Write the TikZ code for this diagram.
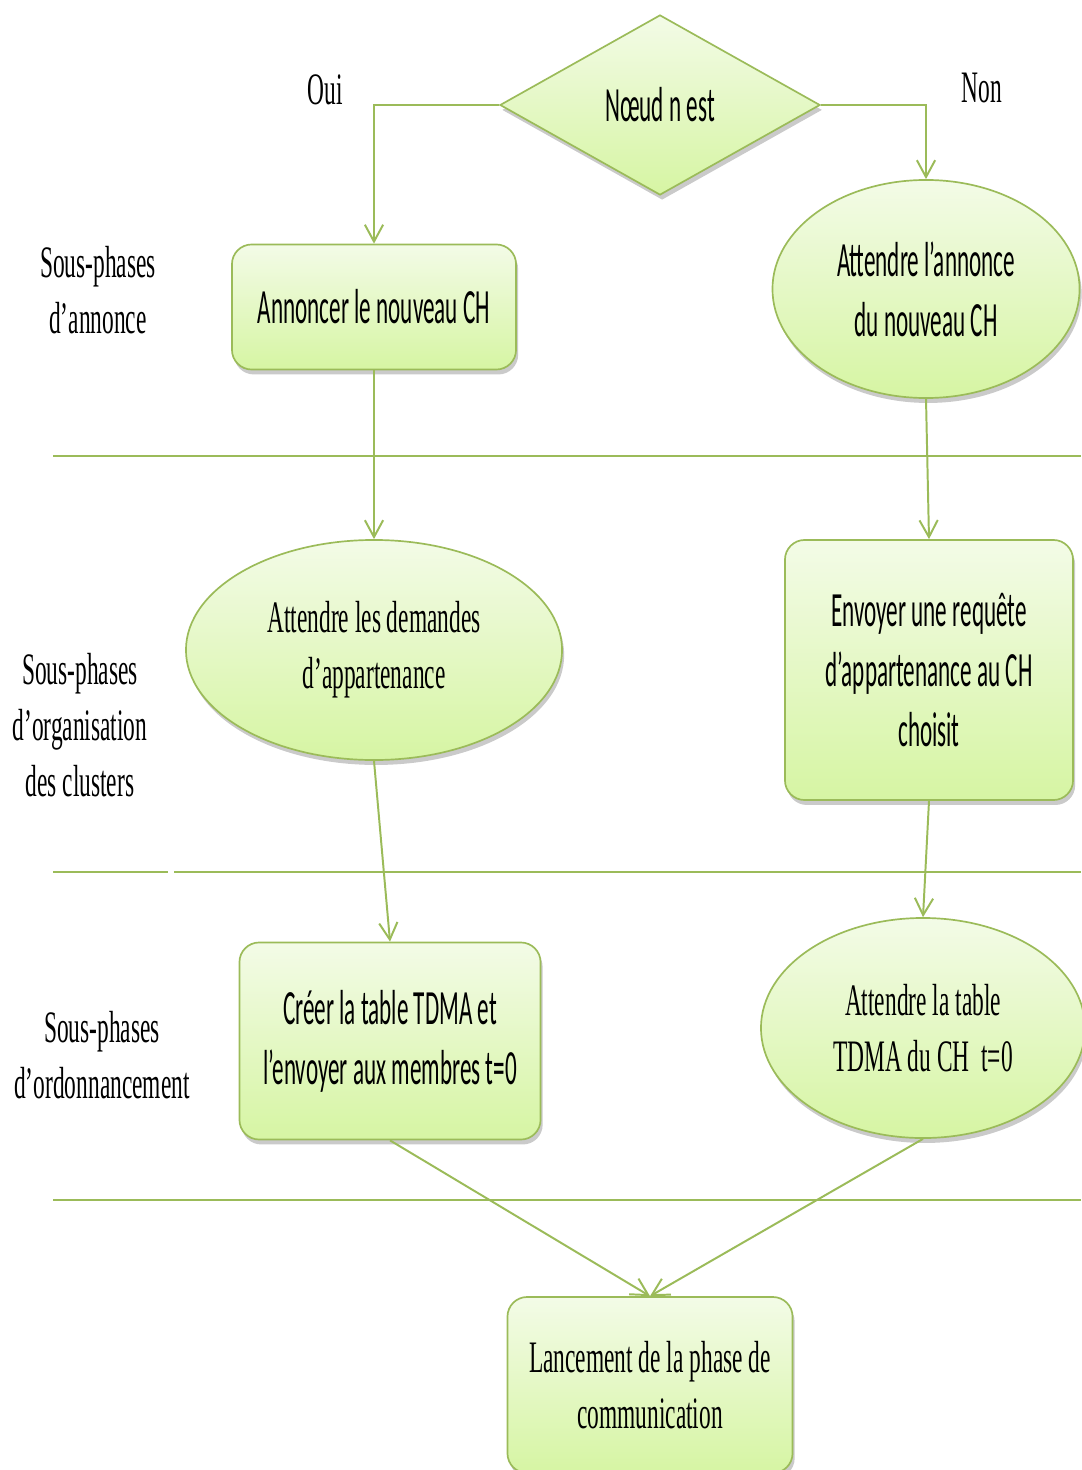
\documentclass[tikz,border=0pt]{standalone}
\usepackage{fontspec}
\setmainfont{Liberation Serif}[FakeStretch=0.52]
\newfontfamily\calib{Carlito}[FakeStretch=0.47]
\usetikzlibrary{arrows.meta,positioning,shapes.geometric,shadows}
\definecolor{olive}{RGB}{155,187,89}
\definecolor{filltop}{RGB}{243,251,231}
\definecolor{fillbot}{RGB}{214,245,163}
\newcommand{\calsize}{\calib\fontsize{35}{42.7}\selectfont}
\newcommand{\timsize}{\fontsize{32}{40}\selectfont}

\begin{document}
\begin{tikzpicture}[
  x=0.025cm, y=-0.025cm,
  font=\timsize,
  base/.style={draw=olive, line width=1.2pt,
               top color=filltop, bottom color=fillbot,
               drop shadow={shadow xshift=1.5pt, shadow yshift=-3.5pt,
                            fill=black!60, opacity=0.35},
               align=center, inner sep=2pt},
  stepbox/.style={base, rectangle, rounded corners=14pt},
  waitell/.style={base, ellipse},
  test/.style={base, diamond, aspect=1.78},
  phaselbl/.style={align=center, font=\timsize},
  sep/.style={draw=olive, line width=2pt},
  flow/.style={draw=olive, line width=1.4pt,
               -{Straight Barb[length=12pt,width=13pt,line width=1.4pt]}},
]

\useasboundingbox (0,0) rectangle (1081,1470);

%% --- separators between sub-phases ---
\draw[sep] (53,456) -- (1081,456);
\draw[sep] (53,872) -- (168,872);
\draw[sep] (174,872) -- (1081,872);
\draw[sep] (53,1200) -- (1081,1200);

%% --- decision ---
\node[test, minimum width=8cm, minimum height=4.5cm, font=\calsize] (nd) at (660,105) {Nœud n est};
\node[phaselbl] (oui) at (325,90) {Oui};
\node[phaselbl] (non) at (982,88) {Non};

%% --- phase labels ---
\node[phaselbl] (ph1) at (98,290) {Sous-phases\\d’annonce};
\node[phaselbl] (ph2) at (80,725) {Sous-phases\\d’organisation\\des clusters};
\node[phaselbl] (ph3) at (102,1055) {Sous-phases\\d’ordonnancement};

%% --- left branch (Oui) ---
\node[stepbox, minimum width=7.1cm, minimum height=3.125cm, font=\calsize] (ann) at (374,307) {Annoncer le nouveau CH};
\node[waitell, minimum width=9.4cm, minimum height=5.5cm] (dem) at (374,650) {Attendre les demandes\\d’appartenance};
\node[stepbox, minimum width=7.525cm, minimum height=4.925cm, font=\calsize] (tdma) at (390,1041) {Créer la table TDMA et\\l’envoyer aux membres t=0};

%% --- right branch (Non) ---
\node[waitell, minimum width=7.675cm, minimum height=5.45cm, font=\calsize] (att) at (926,289) {Attendre l’annonce\\du nouveau CH};
\node[stepbox, minimum width=7.2cm, minimum height=6.5cm, font=\calsize] (req) at (929,670) {Envoyer une requête\\d’appartenance au CH\\choisit};
\node[waitell, minimum width=8.1cm, minimum height=5.5cm] (wtab) at (923,1028) {Attendre la table\\TDMA du CH\ \ t=0};

%% --- end ---
\node[stepbox, minimum width=7.125cm, minimum height=4.4cm] (com) at (650,1385) {Lancement de la phase de\\communication};

%% --- connectors ---
\draw[flow] (nd.west) -| (ann.north);
\draw[flow] (nd.east) -| (att.north);
\draw[flow] (ann.south) -- (dem.north);
\draw[flow] (att.south) -- (req.north);
\draw[flow] (dem.south) -- (tdma.north);
\draw[flow] (req.south) -- (wtab.north);
\draw[flow] (tdma.south) -- (com.north);
\draw[flow] (wtab.south) -- (com.north);

\end{tikzpicture}
\end{document}
